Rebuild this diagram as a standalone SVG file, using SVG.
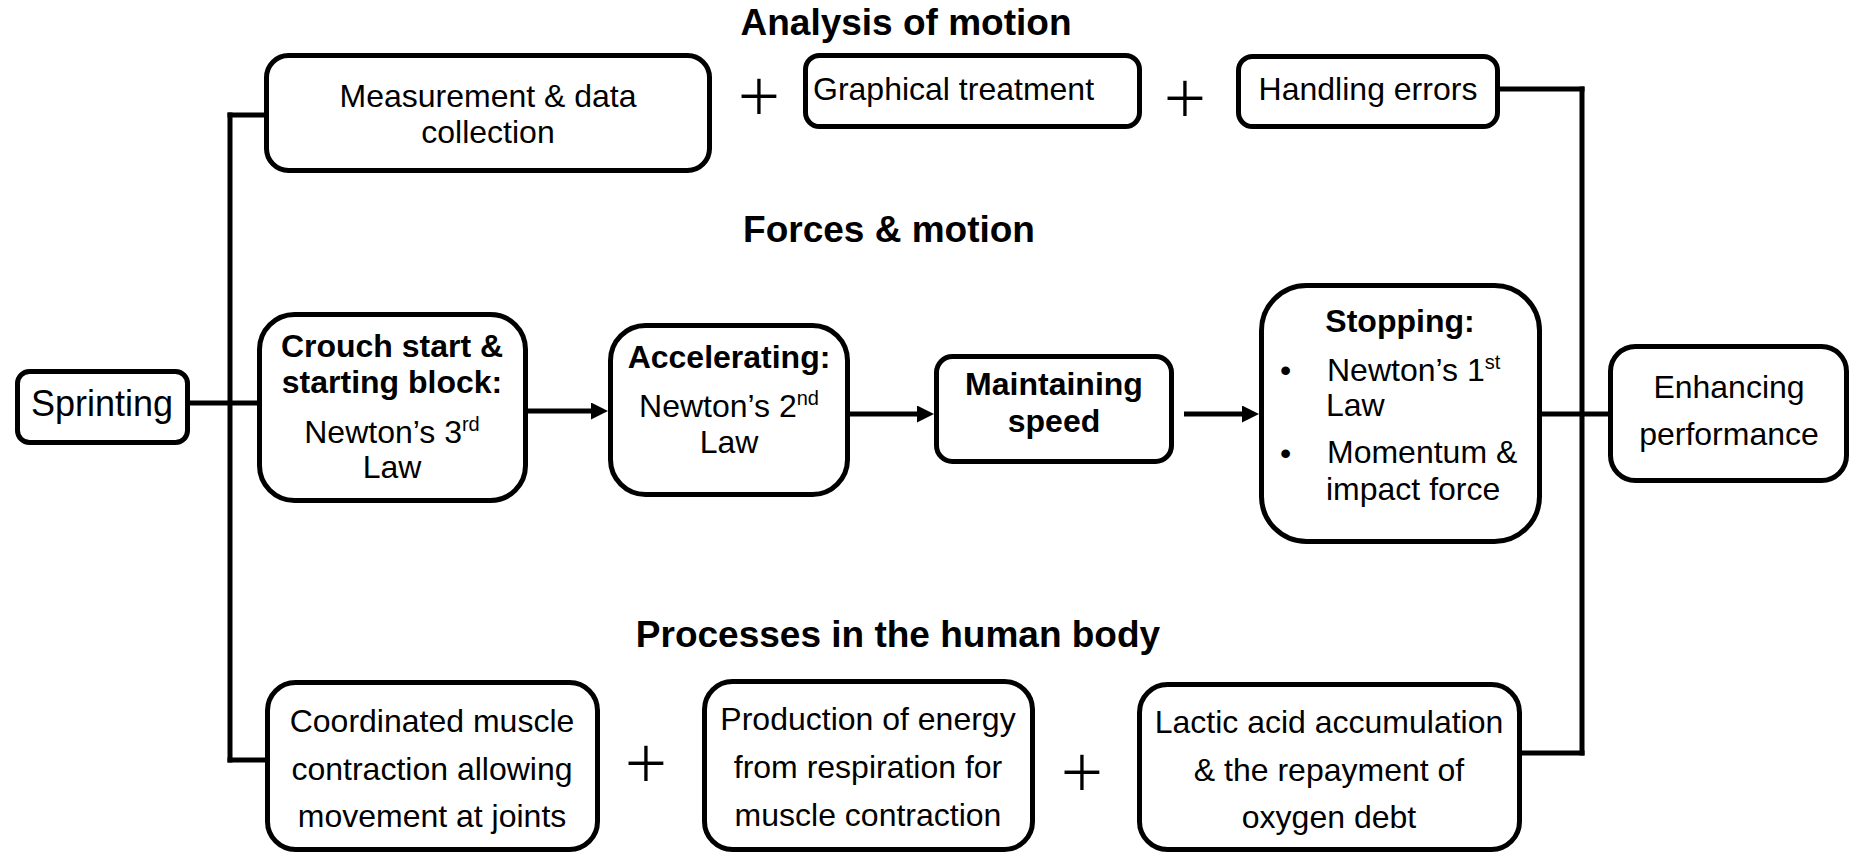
<svg xmlns="http://www.w3.org/2000/svg" width="1850" height="854" viewBox="0 0 1850 854">
  <style>
    .box { fill: #fff; stroke: #000; stroke-width: 5; }
    .wire { fill: none; stroke: #000; stroke-width: 5; stroke-linecap: square; }
    .arrow { fill: none; stroke: #000; stroke-width: 5; marker-end: url(#head); }
    .t { font-family: "Liberation Sans", Arial, sans-serif; font-size: 32px; fill: #000; }
    .b { font-weight: bold; }
    .mid { text-anchor: middle; }
    .h { font-family: "Liberation Sans", Arial, sans-serif; font-size: 37px; font-weight: bold; text-anchor: middle; fill: #000; }
    .sup { font-size: 20px; }
    .plus { font-family: "Liberation Sans", Arial, sans-serif; font-size: 76px; text-anchor: middle; fill: #000; stroke: #fff; stroke-width: 2; }
  </style>
  <defs>
    <marker id="head" markerUnits="userSpaceOnUse" markerWidth="18" markerHeight="18" refX="0" refY="8.5" orient="auto">
      <path d="M0,0 L17,8.5 L0,17 Z" fill="#000"/>
    </marker>
  </defs>

  <rect width="1850" height="854" fill="#fff"/>

  <!-- section headings -->
  <text class="h" x="906" y="35">Analysis of motion</text>
  <text class="h" x="889" y="242">Forces &amp; motion</text>
  <text class="h" x="898" y="647">Processes in the human body</text>

  <!-- plus signs between grouped items -->
  <text class="plus" x="759" y="122">+</text>
  <text class="plus" x="1185" y="124">+</text>
  <text class="plus" x="646" y="789">+</text>
  <text class="plus" x="1082" y="798">+</text>

  <g id="connectors">
    <!-- left trunk -->
    <path class="wire" d="M230,115 L230,760"/>
    <path class="wire" d="M230,115 L264,115"/>
    <path class="wire" d="M230,760 L265,760"/>
    <path class="wire" d="M190,403 L257,403"/>
    <!-- right trunk -->
    <path class="wire" d="M1582,89 L1582,753"/>
    <path class="wire" d="M1500,89 L1582,89"/>
    <path class="wire" d="M1522,753 L1582,753"/>
    <path class="wire" d="M1542,414 L1608,414"/>
    <!-- flow arrows -->
    <path class="arrow" d="M528,411 L591,411" style="stroke-linecap:butt"/>
    <path class="arrow" d="M850,414 L917,414" style="stroke-linecap:butt"/>
    <path class="arrow" d="M1184,414 L1242,414" style="stroke-linecap:butt"/>
  </g>

  <g id="sprinting">
    <rect class="box" x="17.5" y="371.5" width="170" height="71" rx="12"/>
    <text class="t mid" x="102" y="416" style="font-size:36px">Sprinting</text>
  </g>

  <g id="measurement">
    <rect class="box" x="266.5" y="55.5" width="443" height="115" rx="22"/>
    <text class="t mid" x="488" y="107">Measurement &amp; data</text>
    <text class="t mid" x="488" y="143">collection</text>
  </g>

  <g id="graphical">
    <rect class="box" x="805.5" y="55.5" width="334" height="71" rx="14"/>
    <text class="t" x="813" y="100">Graphical treatment</text>
  </g>

  <g id="errors">
    <rect class="box" x="1238.5" y="56.5" width="259" height="70" rx="14"/>
    <text class="t mid" x="1368" y="100">Handling errors</text>
  </g>

  <g id="crouch">
    <rect class="box" x="259.5" y="314.5" width="266" height="186" rx="35"/>
    <text class="t b mid" x="392" y="357">Crouch start &amp;</text>
    <text class="t b mid" x="392" y="393">starting block:</text>
    <text class="t mid" x="392" y="443">Newton’s 3<tspan class="sup" dy="-12">rd</tspan></text>
    <text class="t mid" x="392" y="478">Law</text>
  </g>

  <g id="accelerating">
    <rect class="box" x="610.5" y="325.5" width="237" height="169" rx="35"/>
    <text class="t b mid" x="729" y="368">Accelerating:</text>
    <text class="t mid" x="729" y="417">Newton’s 2<tspan class="sup" dy="-12">nd</tspan></text>
    <text class="t mid" x="729" y="453">Law</text>
  </g>

  <g id="maintaining">
    <rect class="box" x="936.5" y="356.5" width="235" height="105" rx="16"/>
    <text class="t b mid" x="1054" y="395">Maintaining</text>
    <text class="t b mid" x="1054" y="432">speed</text>
  </g>

  <g id="stopping">
    <rect class="box" x="1261.5" y="285.5" width="278" height="256" rx="45"/>
    <text class="t b mid" x="1400" y="332">Stopping:</text>
    <text class="t" x="1280" y="381">•</text>
    <text class="t" x="1327" y="381">Newton’s 1<tspan class="sup" dy="-12">st</tspan></text>
    <text class="t" x="1326" y="416">Law</text>
    <text class="t" x="1280" y="464">•</text>
    <text class="t" x="1327" y="463">Momentum &amp;</text>
    <text class="t" x="1326" y="500">impact force</text>
  </g>

  <g id="enhancing">
    <rect class="box" x="1610.5" y="346.5" width="236" height="134" rx="25"/>
    <text class="t mid" x="1729" y="398">Enhancing</text>
    <text class="t mid" x="1729" y="445">performance</text>
  </g>

  <g id="muscle">
    <rect class="box" x="267.5" y="682.5" width="330" height="167" rx="28"/>
    <text class="t mid" x="432" y="732">Coordinated muscle</text>
    <text class="t mid" x="432" y="780">contraction allowing</text>
    <text class="t mid" x="432" y="827">movement at joints</text>
  </g>

  <g id="energy">
    <rect class="box" x="704.5" y="681.5" width="328" height="168" rx="28"/>
    <text class="t mid" x="868" y="730">Production of energy</text>
    <text class="t mid" x="868" y="778">from respiration for</text>
    <text class="t mid" x="868" y="826">muscle contraction</text>
  </g>

  <g id="lactic">
    <rect class="box" x="1139.5" y="684.5" width="380" height="165" rx="28"/>
    <text class="t mid" x="1329" y="733">Lactic acid accumulation</text>
    <text class="t mid" x="1329" y="781">&amp; the repayment of</text>
    <text class="t mid" x="1329" y="828">oxygen debt</text>
  </g>
</svg>
